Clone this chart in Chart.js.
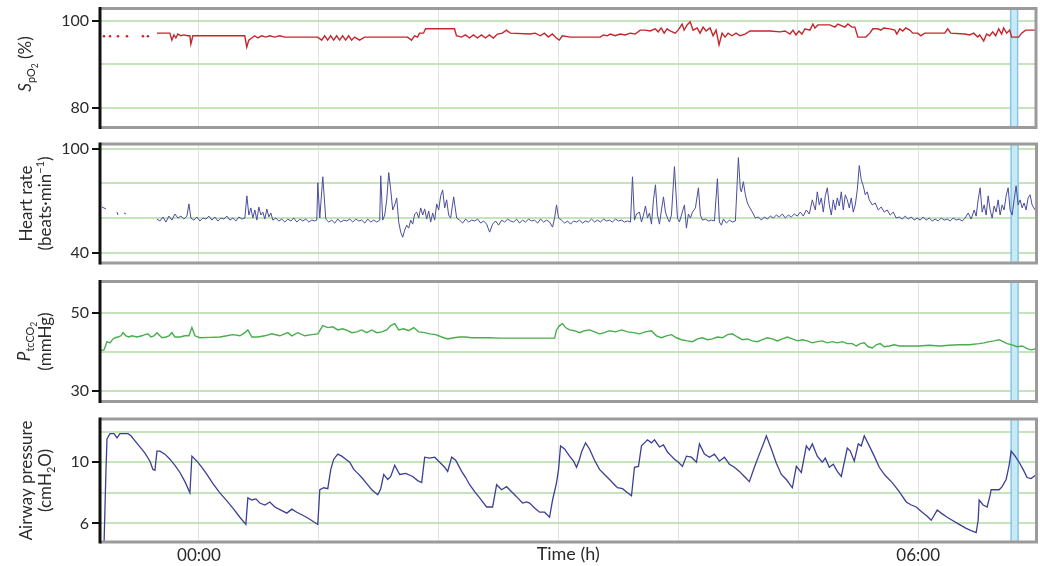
<!DOCTYPE html>
<html><head><meta charset="utf-8">
<script src="https://cdn.jsdelivr.net/npm/chart.js@4.4.1/dist/chart.umd.min.js"></script>
<style>
html,body{margin:0;padding:0;background:#fff;}
#wrap{position:relative;width:1040px;height:566px;overflow:hidden;background:#fff;}
canvas{position:absolute;left:0;}
</style></head><body>
<div id="wrap">
<canvas id="c1" width="1040" height="135" style="top:0px"></canvas>
<canvas id="c2" width="1040" height="134" style="top:136px"></canvas>
<canvas id="c3" width="1040" height="137" style="top:272px"></canvas>
<canvas id="c4" width="1040" height="156" style="top:410px"></canvas>
</div>
<script>
// ---------- DATA (time in minutes after 00:00, value) ----------
const timeRange = [-49.5, 419.2];
const hourTicks = [0, 60, 120, 180, 240, 300, 360];
const hourTickLabels = {0: '00:00', 360: '06:00'};
const markerBand = [406.5, 410];

const spo2Grid = [80, 90, 100];
const spo2Labeled = [80, 100];
const spo2Range = [75.52, 102.87];
const spo2Dots = [[-47.5,96.5],[-44.5,96.5],[-40.5,96.5],[-36,96.5],[-28,96.5],[-25.5,96.5]];
const spo2 = [
[-21,97.2],[-17,97.2],[-14.5,97.2],[-13.5,95.6],[-12.5,96.8],[-11.5,96.1],[-10.5,97.0],[-9,96.6],[-7.5,96.8],[-5.5,96.6],
[-4.5,96.6],[-4,94.7],[-3,96.6],[23,96.6],[24,94.0],[25,95.6],[26.5,96.1],[28,96.6],[29.5,96.1],[31.5,96.6],
[33.5,96.3],[35.5,96.6],[38,96.3],[40.5,96.6],[43,96.3],[59.5,96.3],[61.5,95.6],[63,96.6],[64.5,95.6],[66,96.6],
[67.5,95.6],[69,96.6],[70.5,95.6],[72,96.6],[73.5,95.6],[75,96.6],[76.5,95.6],[78,96.3],[80.5,95.6],[83,96.3],
[104.5,96.3],[106.5,95.6],[108,96.6],[109.5,96.3],[110.5,97.2],[112.5,97.2],[113.5,98.2],[128,98.2],[129,96.6],[131.5,96.3],
[133.5,96.8],[135.5,96.1],[137.5,96.8],[139.5,96.1],[141.5,96.8],[143.5,96.1],[145.5,96.8],[147.5,96.1],[149.5,97.0],[152,97.2],
[154,97.9],[156,97.2],[166,97.0],[168.5,97.2],[171,96.6],[173,97.2],[175,96.3],[177,97.0],[179,96.1],[180.5,95.6],
[182,96.6],[186,96.3],[201,96.3],[202.5,96.8],[204.5,96.6],[206,97.0],[208.5,96.6],[211,97.0],[213.5,96.8],[216,97.2],
[218.5,97.0],[221,97.9],[223.5,97.9],[226,97.7],[228.5,98.2],[230,97.5],[231.5,98.4],[233,97.2],[234.5,98.2],[236,97.7],
[238.5,97.2],[240,97.9],[242,99.3],[243,97.9],[244.5,99.1],[246,99.8],[247.5,97.9],[249.5,98.4],[251,97.2],[252.5,98.6],
[254,97.7],[256,98.4],[257.5,96.6],[259,97.9],[260.5,94.5],[262,97.2],[263.5,96.3],[265,97.2],[267,96.6],[269,97.2],
[271,96.6],[273.5,97.0],[276,97.7],[286,97.7],[291,97.5],[293.5,97.7],[296,97.0],[297.5,97.9],[299,96.8],[300.5,97.7],
[302,97.0],[303.5,98.2],[306,97.9],[307.5,99.3],[308.5,98.4],[310,99.1],[316,99.1],[318.5,98.6],[320,99.3],[323.5,98.6],
[325,99.3],[327,98.6],[328.5,98.6],[330,96.3],[334,96.3],[336,97.2],[337.5,98.2],[340,98.2],[341.5,97.9],[343,98.4],
[346,98.2],[348.5,97.9],[349.5,97.0],[351,98.2],[352.5,97.7],[354,98.4],[356,97.9],[357.5,97.2],[360,97.2],[361.5,96.6],
[363.5,97.2],[373.5,97.2],[375,98.2],[376.5,97.2],[383.5,97.0],[386,96.8],[388,97.2],[390,96.3],[391,96.8],[393,95.4],
[394.5,97.0],[396,96.6],[397.5,97.5],[399,96.6],[400.5,98.2],[402,97.0],[403,98.4],[404.5,97.2],[406,97.9],[407,96.3],
[410.5,96.3],[412,97.2],[414,97.9],[419.2,97.9]
];

const hrGrid = [40, 60, 80, 100];
const hrLabeled = [40, 100];
const hrRange = [34.45, 102.58];
const heartRate = [
[-48.5,66.5],[-46.5,65.4],[-44,null],[-41,63.6],[-40.5,61.9],[-39,null],[-37.5,63.1],[-36.5,62.5],[-30,null],
[-21,59.6],[-19.5,58.5],[-18,60.8],[-16.5,57.9],[-15,61.3],[-13.5,59.0],[-12,62.5],[-10.5,60.2],[-9,61.3],[-7.5,59.6],
[-6,61.3],[-5,68.3],[-4,60.2],[-2.5,59.0],[-1,60.8],[0.5,58.5],[2,60.2],[3.5,59.6],[5,61.3],[6.5,59.0],
[8,60.8],[9.5,58.5],[11,60.2],[12.5,59.6],[14,61.3],[15.5,59.0],[17,60.2],[18.5,58.5],[20,60.8],[21.5,59.6],
[23,60.2],[24,72.9],[25,61.9],[26,66.0],[27,60.2],[28,64.8],[29,59.0],[30,66.5],[31,61.9],[32,63.6],
[33,59.6],[34,65.4],[35,60.8],[36,63.1],[37,59.0],[38.5,60.2],[40,58.5],[41.5,59.6],[43,57.9],[44.5,59.6],
[46,58.5],[47.5,60.2],[49,57.9],[50.5,59.6],[52,58.5],[53.5,59.6],[55,57.9],[56.5,59.0],[58,58.5],[59,59.0],
[59.5,80.4],[60.5,60.2],[62,83.8],[63.5,59.6],[65,57.9],[66.5,59.0],[68,57.3],[69.5,59.6],[71,57.9],[72.5,59.0],
[74,58.5],[75.5,59.6],[77,57.9],[78.5,59.6],[80,58.5],[81.5,59.0],[83,57.3],[84.5,59.6],[86,57.9],[87.5,59.0],
[89,57.9],[90.5,59.0],[91,84.4],[92,59.0],[93,61.9],[94,70.6],[95,86.2],[96,76.3],[97,64.8],[98,67.7],
[99,71.7],[100,57.9],[101,52.1],[102,49.2],[103,53.3],[104,56.1],[105,54.4],[106,59.0],[107,56.7],[108,62.5],
[109,63.6],[110,60.2],[111,66.0],[112,61.9],[113,65.4],[114,59.6],[115,64.2],[116,57.9],[117,63.1],[118,59.0],
[119,68.3],[120,64.8],[121,72.9],[122,76.3],[123,66.0],[124,70.6],[125,61.9],[126,60.2],[127.5,72.3],[129,60.2],
[130.5,59.0],[132,57.3],[133.5,59.6],[135,57.9],[136.5,59.0],[138,58.5],[139.5,59.6],[141,57.3],[142.5,58.5],[144,56.7],
[145.5,52.1],[147,56.7],[148.5,58.5],[150,56.1],[151.5,59.0],[153,57.9],[154.5,59.6],[156,58.5],[157.5,57.9],[159,59.6],
[160.5,57.3],[162,59.0],[163.5,57.9],[165,59.6],[166.5,58.5],[168,59.0],[169.5,57.3],[171,59.6],[172.5,57.9],[174,59.0],
[175.5,57.9],[177,55.0],[178,60.2],[179,67.7],[180,60.2],[181.5,59.0],[183,57.3],[184.5,58.5],[186,56.7],[187.5,58.5],
[189,57.9],[190.5,59.0],[192,57.3],[193.5,58.5],[195,57.9],[196.5,59.6],[198,57.9],[199.5,59.0],[201,57.9],[202.5,59.6],
[204,58.5],[205.5,59.0],[207,57.9],[208.5,59.6],[210,58.5],[211.5,59.0],[213,57.9],[214.5,58.5],[216,57.9],[217,83.8],
[218,59.0],[219,62.5],[220.5,63.6],[221.5,57.9],[222.5,61.9],[223.5,67.1],[224.5,60.2],[225.5,63.1],[226.5,56.7],[227.5,70.6],
[228.5,79.2],[229.5,61.9],[230.5,56.7],[231.5,64.8],[232.5,72.3],[233.5,63.6],[234.5,60.2],[235.5,57.9],[236.5,61.9],[238,89.6],
[239.5,60.2],[240.5,57.9],[241.5,61.9],[243,67.7],[244,54.4],[245,62.5],[246,60.2],[247,63.6],[248.5,66.0],[250,77.5],
[251,61.9],[252,59.0],[253.5,59.6],[255,58.5],[256.5,59.0],[258,58.5],[259.5,82.7],[260.5,57.9],[261.5,56.1],[262.5,59.6],
[264,57.3],[265.5,59.0],[267,57.9],[268.5,58.5],[270,94.8],[271,76.3],[271.5,75.2],[272.5,81.0],[273.5,73.5],[274.5,68.8],
[275.5,66.5],[277,63.6],[278.5,60.2],[280,60.8],[281.5,59.0],[283,60.8],[284.5,59.6],[286,61.3],[287.5,60.2],[289,61.9],
[290.5,60.8],[292,62.5],[293.5,60.2],[295,61.9],[296.5,60.8],[298,62.5],[299.5,61.3],[301,63.6],[302.5,61.3],[304,64.8],
[305.5,62.5],[307,70.6],[308.5,64.8],[309.5,75.2],[310.5,67.7],[311.5,71.7],[312.5,63.6],[313.5,72.9],[314.5,77.5],[315.5,67.7],
[316.5,61.9],[317.5,70.6],[318.5,64.8],[319.5,71.7],[320.5,67.1],[321.5,75.2],[322.5,64.8],[323.5,73.5],[324.5,70.6],[325.5,66.0],
[326.5,71.7],[327.5,63.6],[328.5,67.7],[329.5,76.3],[330.5,90.2],[331.5,82.1],[332.5,78.6],[333.5,73.5],[334.5,75.2],[335.5,70.6],
[337,67.7],[338.5,68.8],[340,64.8],[341.5,66.5],[343,63.6],[344.5,64.8],[346,61.9],[347.5,63.6],[349,60.2],[350.5,60.8],
[352,59.6],[353.5,61.3],[355,59.6],[356.5,60.8],[358,59.0],[359.5,60.2],[361,59.0],[362.5,60.8],[364,59.0],[365.5,60.2],
[367,58.5],[368.5,59.6],[370,58.5],[371.5,60.2],[373,59.0],[374.5,59.6],[376,58.5],[377.5,60.2],[379,59.0],[380.5,59.6],
[382,58.5],[383.5,60.2],[385,63.1],[386.5,59.6],[388,64.8],[389,61.3],[390,70.6],[391,77.5],[392,63.6],[393,67.7],
[394,61.9],[395,72.9],[396,64.8],[397,60.2],[398,67.1],[399,63.6],[400,70.6],[401,61.9],[402,67.7],[403,64.8],
[404,72.9],[405,77.5],[406,64.8],[407,61.9],[408,70.6],[409,78.6],[410,67.7],[411,70.6],[412,66.0],[413,68.8],
[414,64.8],[415,71.7],[416,73.5],[417,67.7],[418.5,64.8]
];

const co2Grid = [30, 40, 50];
const co2Labeled = [30, 50];
const co2Range = [27.32, 57.97];
const ptcCO2 = [
[-49.5,40.3],[-47.5,40.5],[-46,42.6],[-44.5,42.3],[-43,43.3],[-42,43.6],[-40.5,43.8],[-39,44.1],[-38,44.9],[-36.5,44.1],
[-35,43.8],[-33.5,44.1],[-31,43.8],[-28.5,44.1],[-27,44.4],[-25.5,44.6],[-24,43.8],[-22.5,44.1],[-21,44.9],[-19.5,44.1],
[-18.5,43.6],[-16.5,43.8],[-15,44.1],[-13.5,44.9],[-12,43.8],[-9.5,43.8],[-7,44.1],[-5,44.1],[-3.5,46.2],[-2,44.1],
[0.5,43.6],[5.5,43.7],[10.5,43.8],[14,44.1],[17,44.4],[20.5,44.1],[23,44.9],[24.5,45.6],[26.5,43.8],[29.5,43.8],
[33,44.1],[36.5,44.6],[40.5,44.1],[44.5,44.9],[46.5,44.1],[49.5,44.9],[53,44.1],[56.5,44.4],[59.5,44.6],[60.5,45.4],
[62,46.7],[64.5,46.2],[67,46.4],[69.5,45.6],[72,45.9],[74.5,45.4],[76.5,44.9],[79,45.1],[81.5,45.6],[84,44.9],
[86.5,45.6],[89,44.9],[91.5,45.1],[94,45.6],[96,46.7],[98,47.2],[100,45.6],[102.5,45.9],[105,45.4],[107.5,46.2],
[110,45.1],[113,44.9],[115.5,44.6],[118.5,44.4],[121.5,43.8],[124.5,43.3],[127.5,43.6],[130.5,43.8],[133.5,43.8],[136.5,43.6],
[140.5,43.6],[145.5,43.6],[150.5,43.5],[178,43.5],[179,45.6],[180.5,46.7],[182,47.2],[183.5,46.2],[185.5,45.6],[188,45.4],
[190.5,44.9],[193,45.4],[195.5,45.6],[198,45.1],[200.5,44.6],[203,44.9],[205.5,45.4],[208.5,45.1],[211.5,45.6],[214.5,45.1],
[217.5,44.9],[220.5,44.6],[223.5,45.1],[226.5,45.4],[229,44.1],[231.5,43.6],[234,44.1],[236.5,44.4],[239,43.6],[241.5,43.1],
[244.5,42.8],[247,42.6],[249.5,43.3],[252,43.6],[254.5,43.1],[257,43.3],[259.5,43.8],[262,43.6],[264.5,44.4],[267,44.6],
[269.5,43.8],[272,43.1],[274.5,43.3],[277,42.8],[279.5,42.6],[282,43.1],[284.5,43.6],[287,43.3],[289.5,42.8],[292,43.3],
[294.5,43.8],[297,43.3],[299.5,42.8],[302,43.1],[304.5,42.8],[307,42.3],[309.5,42.6],[312,42.8],[314.5,42.3],[317,42.6],
[319.5,42.3],[322,42.6],[324.5,42.1],[327,42.1],[329,41.5],[331,42.1],[333,42.3],[335,41.3],[337,41.0],[339,41.8],
[341,42.1],[343,41.3],[345.5,41.5],[348,41.8],[350.5,41.5],[355.5,41.5],[360.5,41.5],[365.5,41.7],[370.5,41.5],[375.5,41.7],
[380.5,41.8],[385.5,41.8],[390.5,42.1],[393,42.3],[395.5,42.6],[398,42.8],[400.5,43.1],[402.5,42.6],[404.5,42.1],[407,41.8],
[409.5,41.3],[412,41.5],[414.5,40.8],[416.5,40.5],[419.2,40.8]
];

const pawGrid = [6, 8, 10, 12];
const pawLabeled = [6, 10];
const pawRange = [4.78, 12.83];
const airwayPressure = [
[-47.5,4.53],[-46.5,9.53],[-46,11.53],[-44.5,11.87],[-42.5,11.87],[-41,11.6],[-39.5,11.87],[-35.5,11.87],[-34,11.73],[-32,11.4],
[-29.5,11.0],[-27,10.6],[-24.5,10.07],[-23,9.53],[-22,9.47],[-21,10.73],[-19.5,10.73],[-17,10.53],[-14.5,10.2],[-12,9.8],
[-9.5,9.33],[-7,8.73],[-4.5,8.0],[-3.5,10.4],[-1,10.07],[1.5,9.67],[4,9.2],[7,8.6],[10.5,8.0],[14,7.47],
[17,7.0],[20.5,6.4],[23.5,5.93],[24.5,7.67],[26.5,7.53],[28.5,7.6],[30.5,7.33],[33,7.2],[35.5,7.4],[38,7.07],
[41,6.87],[44,6.67],[46.5,6.93],[49,6.73],[52,6.53],[55.5,6.27],[59.5,5.93],[60.5,8.2],[62.5,8.33],[64.5,8.27],
[66,9.53],[67.5,10.2],[69.5,10.53],[71.5,10.4],[73.5,10.2],[75.5,10.0],[77.5,9.53],[79.5,9.27],[81.5,9.0],[84,8.6],
[86.5,8.2],[89.5,7.87],[91,8.27],[92.5,9.2],[94.5,8.87],[96,9.07],[98,9.8],[100.5,9.2],[103.5,9.27],[107,9.07],
[109.5,8.8],[111.5,8.67],[113,10.33],[115.5,10.27],[118,10.33],[120.5,10.0],[123,9.67],[124.5,9.4],[126.5,10.33],[128.5,10.13],
[131.5,9.4],[133.5,9.0],[135.5,8.53],[138,8.07],[140.5,7.67],[142.5,7.33],[144,7.07],[147,7.07],[149,8.53],[151.5,8.2],
[154,8.4],[156,8.13],[158,7.87],[160,7.6],[162,7.33],[164,7.4],[165.5,7.33],[168,7.0],[170.5,6.73],[173,6.73],
[175.5,6.4],[177,7.53],[179,8.67],[180,9.53],[181,11.07],[183,10.87],[185.5,10.4],[187.5,10.07],[189,9.67],[190.5,10.2],
[191.5,10.67],[193.5,11.27],[195.5,10.87],[198,10.13],[200.5,9.53],[203,9.2],[205.5,8.87],[208,8.53],[209.5,8.33],[212,8.27],
[214.5,8.0],[216.5,7.8],[218,9.67],[220,9.73],[221.5,11.07],[223.5,11.33],[224.5,11.47],[226.5,11.27],[228,11.47],[230.5,11.0],
[232.5,11.13],[234.5,10.67],[236.5,10.4],[238,10.2],[240,10.0],[242,9.73],[244,10.4],[246.5,10.33],[249,10.0],[250.5,11.2],
[253,10.53],[255.5,10.33],[258,10.53],[260.5,10.07],[263,10.33],[265.5,9.87],[268,9.67],[270.5,9.4],[273,9.07],[275.5,8.73],
[278,9.67],[280.5,10.53],[282.5,11.2],[284,11.73],[286.5,10.87],[289,9.93],[291.5,9.2],[294,8.87],[297,8.33],[299,9.73],
[301.5,9.33],[304,11.07],[305.5,10.8],[307,11.2],[309.5,10.4],[312,10.0],[313.5,10.27],[315.5,9.67],[317.5,9.87],[319.5,9.4],
[321.5,9.07],[324.5,10.93],[326,10.73],[328,10.07],[330,11.2],[331.5,11.07],[333,11.73],[335.5,11.07],[338,10.4],[340.5,9.67],
[343.5,9.13],[347,8.67],[350.5,8.07],[354,7.4],[356.5,7.2],[359,7.07],[362,6.73],[364.5,6.47],[366.5,6.2],[368,6.53],
[369.5,6.87],[371.5,6.67],[374.5,6.4],[377,6.2],[380.5,5.93],[384,5.67],[386.5,5.53],[389,5.4],[390,6.2],[390.5,7.53],
[392.5,7.2],[394.5,7.07],[396,7.87],[396.5,8.2],[398.5,8.2],[400.5,8.2],[402,8.4],[404,8.87],[405.5,9.8],[406.5,10.73],
[408.5,10.4],[410.5,10.0],[412.5,9.53],[414.5,9.0],[416.5,8.93],[419.2,9.2]
];

// ---------- STYLE ----------
const FONT = "Lato, 'Noto Sans', 'DejaVu Sans', sans-serif";
const TEXT = '#2b2b2b';
const GREEN_GRID = '#c6e4bb';
const V_GRID = '#e0e6dd';
const FRAME = '#9b9b9b';

const toXY = arr => arr.map(([t, v]) => ({x: t, y: v}));

const framePlugin = {
  id: 'frame',
  beforeDatasetsDraw(chart) {
    const {ctx, chartArea: a} = chart;
    const xs = chart.scales.x;
    const x0 = xs.getPixelForValue(markerBand[0]);
    const x1 = xs.getPixelForValue(markerBand[1]);
    ctx.save();
    ctx.fillStyle = '#c8e9f6';
    ctx.fillRect(x0, a.top, x1 - x0, a.bottom - a.top);
    ctx.strokeStyle = '#86c8e4';
    ctx.lineWidth = 1.5;
    ctx.beginPath();
    ctx.moveTo(x0, a.top); ctx.lineTo(x0, a.bottom);
    ctx.moveTo(x1, a.top); ctx.lineTo(x1, a.bottom);
    ctx.stroke();
    ctx.restore();
  },
  afterDraw(chart, args, opts) {
    const {ctx, chartArea: a} = chart;
    ctx.save();
    ctx.strokeStyle = FRAME;
    ctx.lineWidth = 3;
    ctx.beginPath();
    ctx.moveTo(a.left, a.top); ctx.lineTo(a.right, a.top);
    ctx.lineTo(a.right, a.bottom); ctx.lineTo(a.left, a.bottom);
    ctx.stroke();
    ctx.strokeStyle = '#111';
    ctx.beginPath();
    ctx.moveTo(a.left, a.top - 1.5); ctx.lineTo(a.left, a.bottom + 1.5);
    ctx.stroke();
    if (opts.lines) {
      const cy = (a.top + a.bottom) / 2 + (opts.dy || 0);
      const size = opts.size || 17;
      ctx.fillStyle = TEXT;
      ctx.textBaseline = 'alphabetic';
      ctx.textAlign = 'left';
      opts.lines.forEach((runs, i) => {
        ctx.save();
        ctx.translate(opts.baselines[i], cy);
        ctx.rotate(-Math.PI / 2);
        const parts = runs.map(r => {
          const lvl = r.lvl || 0;
          const fs = lvl === 0 ? size : (lvl === 2 ? size * 0.5 : size * 0.64);
          const font = (r.it ? 'italic ' : '') + fs + 'px ' + FONT;
          ctx.font = font;
          const dy = lvl === 1 ? size * 0.24 : lvl === 2 ? size * 0.42 : lvl === -1 ? -size * 0.42 : 0;
          return {t: r.t, font, dy, w: ctx.measureText(r.t).width};
        });
        const total = parts.reduce((s, p) => s + p.w, 0);
        let x = -total / 2;
        parts.forEach(p => { ctx.font = p.font; ctx.fillText(p.t, x, p.dy); x += p.w; });
        ctx.restore();
      });
    }
    if (opts.xTitle) {
      ctx.fillStyle = TEXT;
      ctx.font = '18px ' + FONT;
      ctx.textAlign = 'center';
      ctx.textBaseline = 'middle';
      ctx.fillText(opts.xTitle, (a.left + a.right) / 2, a.bottom + 12);
    }
    ctx.restore();
  }
};

function makePanel(id, pad, datasets, yRange, yGrid, yLabeled, title, showX) {
  const xScale = {
    type: 'linear', min: timeRange[0], max: timeRange[1],
    afterBuildTicks: s => { s.ticks = hourTicks.map(v => ({value: v})); },
    afterFit: s => { s.height = showX ? 24 : 0; s.paddingLeft = 0; s.paddingRight = 0; s.paddingTop = 0; s.paddingBottom = 0; },
    grid: {color: V_GRID, lineWidth: 1, drawTicks: false},
    border: {display: false},
    ticks: {
      display: showX, padding: 3, color: TEXT, maxRotation: 0, autoSkip: false,
      font: {family: FONT, size: 17},
      callback: v => hourTickLabels[v] || ''
    }
  };
  return new Chart(document.getElementById(id), {
    type: 'line',
    data: {datasets},
    options: {
      responsive: false, animation: false, events: [],
      layout: {padding: pad},
      plugins: {legend: {display: false}, tooltip: {enabled: false}, frame: title},
      scales: {
        x: xScale,
        y: {
          type: 'linear', min: yRange[0], max: yRange[1],
          afterBuildTicks: s => { s.ticks = yGrid.map(v => ({value: v})); },
          afterFit: s => { s.width = 100; s.paddingTop = 0; s.paddingBottom = 0; s.paddingLeft = 0; s.paddingRight = 0; },
          grid: {
            color: GREEN_GRID, lineWidth: 2, drawTicks: true, tickLength: 8, tickWidth: 2,
            tickColor: c => (c.tick && yLabeled.includes(c.tick.value)) ? '#111' : 'rgba(0,0,0,0)'
          },
          border: {display: false},
          ticks: {
            padding: 3, color: TEXT, font: {family: FONT, size: 16},
            callback: v => yLabeled.includes(v) ? String(v) : ''
          }
        }
      }
    },
    plugins: [framePlugin]
  });
}

const lineDs = (data, color, w) => ({
  data: toXY(data), borderColor: color, borderWidth: w, pointRadius: 0,
  tension: 0, spanGaps: false, fill: false
});

makePanel('c1', {left: 0, right: 3.5, top: 8.5, bottom: 7.5}, [
  lineDs(spo2, '#c4262c', 1.4),
  {data: toXY(spo2Dots), showLine: false, pointRadius: 1.3, pointBackgroundColor: '#c4262c', pointBorderWidth: 0}
], spo2Range, spo2Grid, spo2Labeled, {
  size: 17, baselines: [31], dy: -4,
  lines: [[{t: 'S', it: true}, {t: 'pO', lvl: 1}, {t: '2', lvl: 2}, {t: ' (%)'}]]
}, false);

makePanel('c2', {left: 0, right: 3.5, top: 8, bottom: 7}, [
  lineDs(heartRate, '#4a4d9c', 1)
], hrRange, hrGrid, hrLabeled, {
  size: 17, baselines: [32, 51], dy: 0,
  lines: [[{t: 'Heart rate'}], [{t: '(beats·min'}, {t: '−1', lvl: -1}, {t: ')'}]]
}, false);

makePanel('c3', {left: 0, right: 3.5, top: 9.5, bottom: 7.5}, [
  lineDs(ptcCO2, '#48ad4c', 1.4)
], co2Range, co2Grid, co2Labeled, {
  size: 17, baselines: [30, 51], dy: 0,
  lines: [[{t: 'P', it: true}, {t: 'tcCO', lvl: 1}, {t: '2', lvl: 2}], [{t: '(mmHg)'}]]
}, false);

makePanel('c4', {left: 0, right: 3.5, top: 9, bottom: 0}, [
  lineDs(airwayPressure, '#3c3f94', 1.3)
], pawRange, pawGrid, pawLabeled, {
  size: 17, baselines: [32, 51], dy: 0, xTitle: 'Time (h)',
  lines: [[{t: 'Airway pressure'}], [{t: '(cmH'}, {t: '2', lvl: 1}, {t: 'O)'}]]
}, true);
</script>
</body></html>
